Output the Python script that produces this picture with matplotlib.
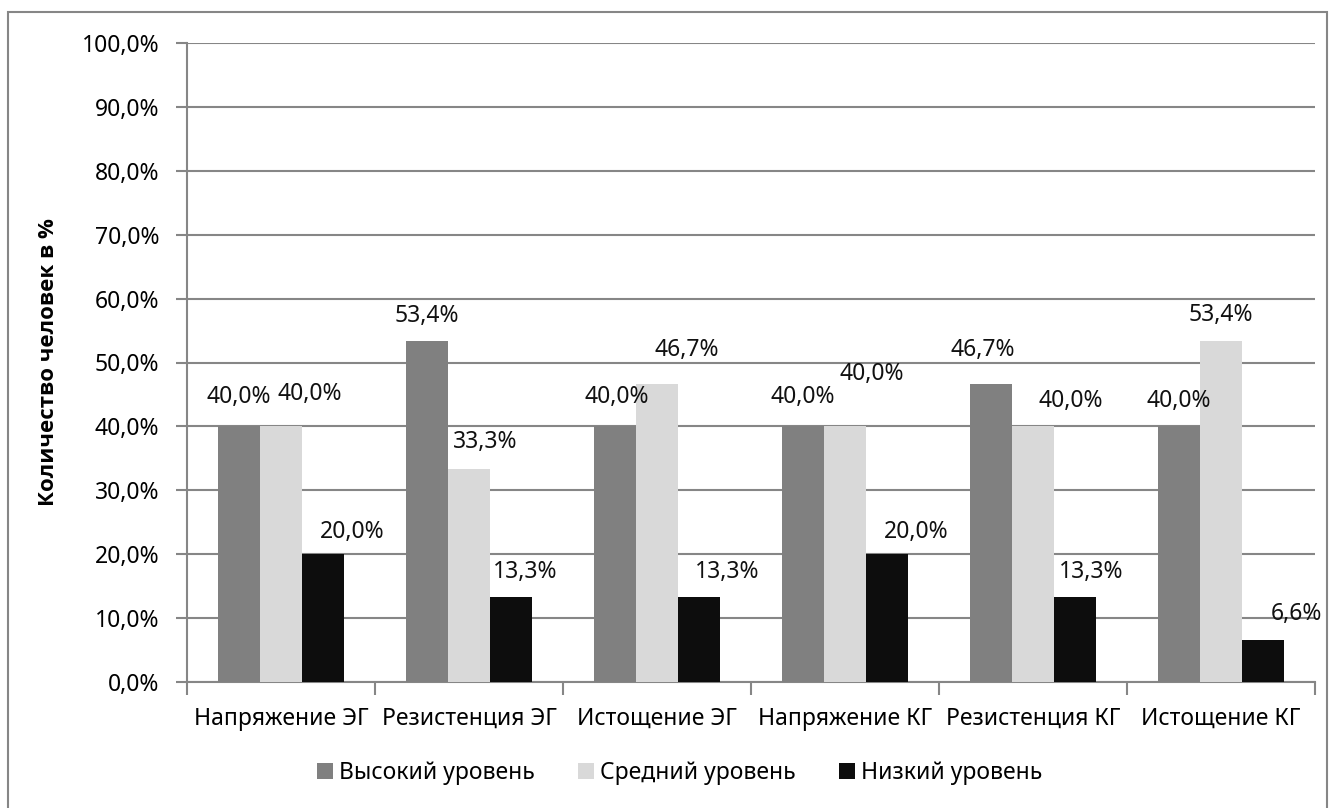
import matplotlib.pyplot as plt
import matplotlib.patches as patches
import numpy as np

plt.rcParams['font.family'] = ['Noto Sans', 'DejaVu Sans']

categories = ["Напряжение ЭГ", "Резистенция ЭГ", "Истощение ЭГ",
              "Напряжение КГ", "Резистенция КГ", "Истощение КГ"]
series_names = ["Высокий уровень", "Средний уровень", "Низкий уровень"]
high = [40.0, 53.4, 40.0, 40.0, 46.7, 40.0]
medium = [40.0, 33.3, 46.7, 40.0, 40.0, 53.4]
low = [20.0, 13.3, 13.3, 20.0, 13.3, 6.6]

colors = ["#808080", "#d9d9d9", "#0d0d0d"]
grid_color = "#868686"
fs = 16.5

# сдвиг подписей относительно верха столбца (пиксели: вправо, вверх)
label_dx = [[0, 0, 2, 0, -8, 0],
            [29, 16, 30, 27, 38, 0],
            [29, 14, 28, 29, 16, 33]]
label_dy = [[29, 25, 29, 29, 34, 25],
            [32, 27, 34, 52, 25, 26],
            [22, 25, 25, 22, 25, 26]]

fig = plt.figure(figsize=(13.35, 8.08), dpi=100)
ax = fig.add_axes([187 / 1335, 1 - 682 / 808, 1128 / 1335, 639 / 808])

# рамка вокруг всей диаграммы
frame = patches.Rectangle((8 / 1335, -0.05), 1319 / 1335, 0.05 + 796 / 808,
                          transform=fig.transFigure, fill=False,
                          edgecolor=grid_color, linewidth=1.5, clip_on=False)
fig.patches.append(frame)

x = np.arange(len(categories))
w = 0.2234
px = 0.72  # пиксель в пунктах при dpi=100
for i, (vals, name) in enumerate(zip([high, medium, low], series_names)):
    pos = x + (i - 1) * w
    ax.bar(pos, vals, width=w, color=colors[i], label=name, zorder=3)
    for j, v in enumerate(vals):
        ax.annotate(f"{v:.1f}%".replace(".", ","), (pos[j], v),
                    xytext=(label_dx[i][j] * px, label_dy[i][j] * px),
                    textcoords="offset points", ha="center", va="center",
                    fontsize=fs, color="#111111", zorder=4)

ax.set_xlim(-0.5, len(categories) - 0.5)
ax.set_ylim(0, 100)
ax.set_yticks(np.arange(0, 101, 10))
ax.set_yticklabels([f"{t:.1f}%".replace(".", ",") for t in np.arange(0, 101, 10)])
ax.yaxis.grid(True, color=grid_color, linewidth=1.5, zorder=0)

ax.set_xticks(np.arange(-0.5, len(categories)), minor=False)
ax.set_xticklabels([])
ax.set_xticks(x, minor=True)
ax.set_xticklabels(categories, minor=True)
ax.tick_params(axis="x", which="major", length=9, width=1.5, color=grid_color)
ax.tick_params(axis="x", which="minor", length=0, pad=18, labelsize=fs)
ax.tick_params(axis="y", length=8, width=1.5, color=grid_color, pad=12,
               labelsize=fs)

for side in ["top", "right"]:
    ax.spines[side].set_visible(False)
for side in ["left", "bottom"]:
    ax.spines[side].set_color(grid_color)
    ax.spines[side].set_linewidth(1.5)

ax.set_ylabel("Количество человек в %", fontsize=16, fontweight="bold",
              family=["Open Sans", "DejaVu Sans"])
ax.yaxis.set_label_coords(-0.1135, 0.5)

fig.legend(loc="center", bbox_to_anchor=(0.509, 1 - 773 / 808), ncol=3,
           frameon=False, fontsize=fs, handlelength=0.7, handleheight=0.7,
           handletextpad=0.25, columnspacing=1.9)

fig.savefig("out.png", dpi=100)
